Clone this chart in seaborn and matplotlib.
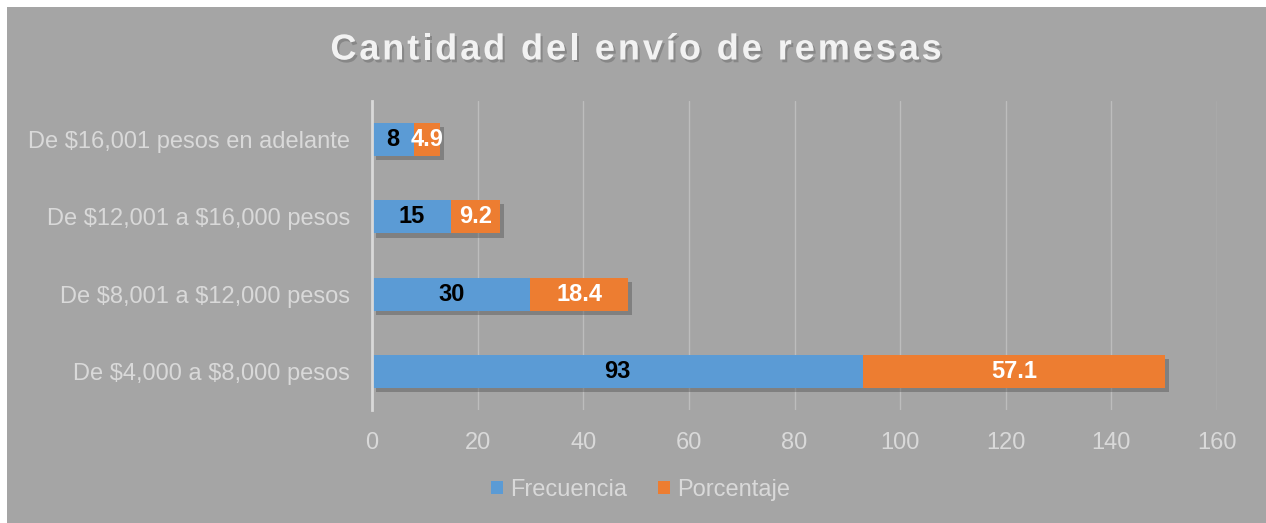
# Cantidad del envio de remesas - stacked horizontal bars
import pandas as pd
import numpy as np

import seaborn as sns
import matplotlib
matplotlib.use("Agg")
import matplotlib.pyplot as plt
import matplotlib.patheffects as pe
from matplotlib.patches import Patch, Rectangle

# ---------------- data ----------------
categorias = [
    "De $16,001 pesos en adelante",
    "De $12,001 a $16,000 pesos",
    "De $8,001 a $12,000 pesos",
    "De $4,000 a $8,000 pesos",
]
frecuencia = [8, 15, 30, 93]
porcentaje = [4.9, 9.2, 18.4, 57.1]
xticks = [0, 20, 40, 60, 80, 100, 120, 140, 160]

titulo = "Cantidad del envío de remesas"

BG = "#a5a5a5"
BLUE = "#5b9bd5"
ORANGE = "#ed7d31"
LIGHT = "#d9d9d9"

df = pd.DataFrame({"cat": categorias, "frec": frecuencia, "porc": porcentaje})
df["total"] = df["frec"] + df["porc"]

sns.set_style("white")
plt.rcParams["font.family"] = ["Liberation Sans", "DejaVu Sans"]
# the labels have dollar signs, no mathtext please
plt.rcParams["text.parse_math"] = False

fig = plt.figure(figsize=(12.66, 5.23), dpi=100, facecolor=BG)
W, H = 1266, 523
# thin white strip on left and top, like the original screenshot
fig.patches.append(Rectangle((0, 0), 7 / W, 1, transform=fig.transFigure,
                             facecolor="white", edgecolor="none", zorder=-5))
fig.patches.append(Rectangle((0, 1 - 7 / H), 1, 7 / H, transform=fig.transFigure,
                             facecolor="white", edgecolor="none", zorder=-5))

ax = fig.add_axes([372 / W, 1 - 410 / H, (1217 - 372) / W, (410 - 101) / H])
ax.set_facecolor(BG)

# orange first (full length), then blue on top
sns.barplot(data=df, y="cat", x="total", color=ORANGE, width=0.43,
            saturation=1, ax=ax, orient="h", zorder=3, linewidth=0)
sns.barplot(data=df, y="cat", x="frec", color=BLUE, width=0.43,
            saturation=1, ax=ax, orient="h", zorder=4, linewidth=0)

shadow = [pe.SimplePatchShadow(offset=(3, -3), shadow_rgbFace="#4a4a4a", alpha=0.4), pe.Normal()]
for i, p in enumerate(ax.patches):
    p.set_edgecolor("none")
    if i < len(categorias):
        p.set_path_effects(shadow)

# value labels
for i in range(len(categorias)):
    f = frecuencia[i]
    pc = porcentaje[i]
    ax.text(f / 2, i, str(f), ha="center", va="center", fontsize=17,
            fontweight="bold", color="black", zorder=6)
    ax.text(f + pc / 2, i, str(pc), ha="center", va="center", fontsize=17,
            fontweight="bold", color="white", zorder=6)

ax.set_xlim(0, 160)
ax.set_ylim(3.5, -0.5)
ax.set_xticks(xticks)
ax.set_xticklabels([str(t) for t in xticks])
ax.tick_params(axis="x", colors=LIGHT, labelsize=17, length=0, pad=16)
ax.tick_params(axis="y", colors=LIGHT, labelsize=17, length=0, pad=16)
ax.set_xlabel("")
ax.set_ylabel("")
ax.grid(axis="x", color="#bdbdbd", linewidth=1, zorder=0)
ax.set_axisbelow(True)
for s in ["top", "right", "bottom"]:
    ax.spines[s].set_visible(False)
ax.spines["left"].set_color(LIGHT)
ax.spines["left"].set_linewidth(2)
ax.spines["left"].set_zorder(5)

# legend
handles = [Patch(facecolor=BLUE, edgecolor="none", label="Frecuencia"),
           Patch(facecolor=ORANGE, edgecolor="none", label="Porcentaje")]
fig.legend(handles=handles, loc="center", bbox_to_anchor=(0.506, 1 - 490 / H),
           ncol=2, frameon=False, fontsize=17, labelcolor=LIGHT,
           handlelength=0.5, handleheight=0.5, handletextpad=0.3,
           columnspacing=1.3)

# title with letter spacing, drawn char by char
renderer = fig.canvas.get_renderer()
tsize = 26
spacing = 2.9
tkw = dict(fontsize=tsize, fontweight="bold")


def text_w(s):
    t = fig.text(0, 0, s, **tkw)
    w = t.get_window_extent(renderer).width
    t.remove()
    return w


total_w = text_w(titulo) + spacing * (len(titulo) - 1)
x0 = 636 - total_w / 2
ty = 1 - 50 / H
title_fx = [pe.SimplePatchShadow(offset=(1.5, -2), shadow_rgbFace="#6a6a6a", alpha=0.5), pe.Normal()]
for i, ch in enumerate(titulo):
    if ch == " ":
        continue
    xr = x0 + text_w(titulo[:i + 1]) + spacing * i
    fig.text(xr / W, ty, ch, ha="right", va="center", color="#f2f2f2",
             path_effects=title_fx, **tkw)

fig.savefig("out.png", dpi=100, facecolor=fig.get_facecolor())
